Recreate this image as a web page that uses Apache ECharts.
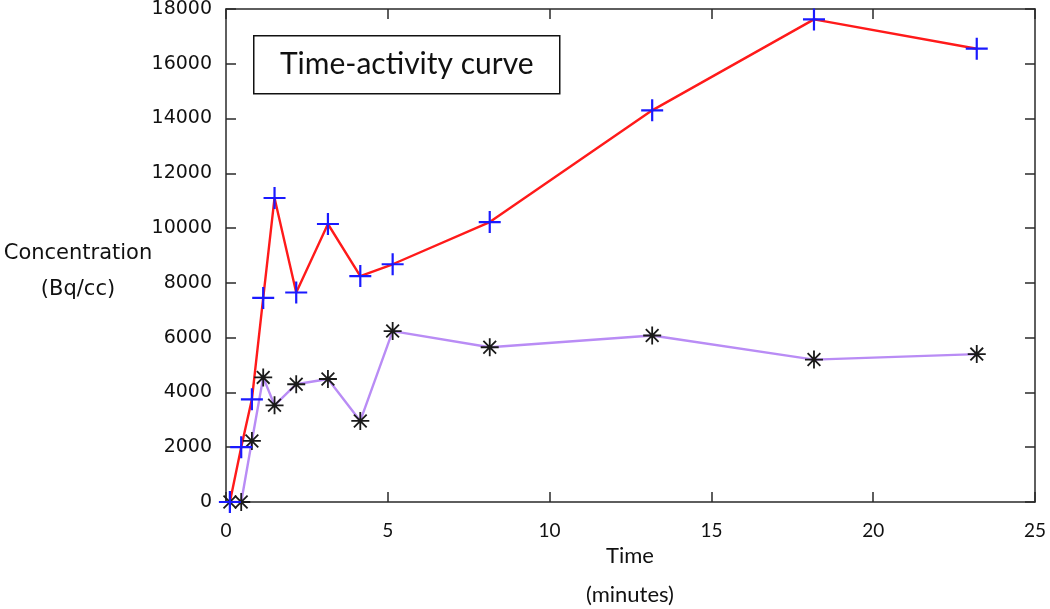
<!DOCTYPE html>
<html>
<head>
<meta charset="utf-8">
<script src="https://cdn.jsdelivr.net/npm/echarts@6/dist/echarts.min.js"></script>
<style>html,body{margin:0;padding:0;background:#fff;overflow:hidden;}#chart{width:1050px;height:609px;}</style>
</head>
<body>
<div id="chart"></div>
<script>
// ---- data ----
const timeMinutes = [0.12, 0.47, 0.8, 1.15, 1.5, 2.17, 3.15, 4.15, 5.15, 8.15, 13.17, 18.17, 23.2];
const curveRed    = [0, 2000, 3750, 7450, 11100, 7650, 10150, 8250, 8680, 10220, 14300, 17620, 16550];
const curvePurple = [0, 0, 2230, 4550, 3530, 4300, 4490, 2960, 6240, 5650, 6080, 5200, 5400];
const titleText = 'Time-activity curve';
const yAxisTitle = ['Concentration', '(Bq/cc)'];
const xAxisTitle = ['Time', '(minutes)'];
const xTicks = {min: 0, max: 25, interval: 5};
const yTicks = {min: 0, max: 18000, interval: 2000};

const pairs = (xs, ys) => xs.map((x, i) => [x, ys[i]]);

const plusPath = 'path://M9,0 H11 V9 H20 V11 H11 V20 H9 V11 H0 V9 H9 Z';
const starPath = 'path://M9,0 L11,0 L11,20 L9,20 Z M0,9 L20,9 L20,11 L0,11 Z ' +
  'M3.64,2.22 L17.78,16.36 L16.36,17.78 L2.22,3.64 Z ' +
  'M16.36,2.22 L17.78,3.64 L3.64,17.78 L2.22,16.36 Z';

const axisColor = '#2a2a2a';
const chart = echarts.init(document.getElementById('chart'), null, {renderer: 'canvas', width: 1050, height: 609});
chart.setOption({
  animation: false,
  backgroundColor: '#fff',
  grid: {left: 226, width: 809, top: 9, height: 493, containLabel: false, outerBoundsMode: 'none'},
  xAxis: [{
    type: 'value', min: xTicks.min, max: xTicks.max, interval: xTicks.interval,
    position: 'bottom',
    axisLine: {show: true, onZero: false, lineStyle: {color: axisColor, width: 1.5}},
    axisTick: {show: true, inside: true, length: 10, lineStyle: {color: axisColor, width: 1.5}},
    axisLabel: {fontFamily: 'Lato', fontSize: 19, color: '#111', margin: 19},
    splitLine: {show: false}
  }, {
    type: 'value', min: xTicks.min, max: xTicks.max, interval: xTicks.interval,
    position: 'top',
    axisLine: {show: true, onZero: false, lineStyle: {color: axisColor, width: 1.5}},
    axisTick: {show: true, inside: true, length: 10, lineStyle: {color: axisColor, width: 1.5}},
    axisLabel: {show: false},
    splitLine: {show: false}
  }],
  yAxis: [{
    type: 'value', min: yTicks.min, max: yTicks.max, interval: yTicks.interval,
    position: 'left',
    axisLine: {show: true, onZero: false, lineStyle: {color: axisColor, width: 1.5}},
    axisTick: {show: true, inside: true, length: 10, lineStyle: {color: axisColor, width: 1.5}},
    axisLabel: {fontFamily: 'DejaVu Sans', fontSize: 19, color: '#111', margin: 14,
                formatter: v => String(v)},
    splitLine: {show: false}
  }, {
    type: 'value', min: yTicks.min, max: yTicks.max, interval: yTicks.interval,
    position: 'right',
    axisLine: {show: true, onZero: false, lineStyle: {color: axisColor, width: 1.5}},
    axisTick: {show: true, inside: true, length: 10, lineStyle: {color: axisColor, width: 1.5}},
    axisLabel: {show: false},
    splitLine: {show: false}
  }],
  series: [{
    name: 'purple', type: 'line', xAxisIndex: 0, yAxisIndex: 0,
    data: pairs(timeMinutes, curvePurple),
    lineStyle: {color: '#b98cf5', width: 2.4},
    symbol: starPath, symbolSize: 18, showAllSymbol: true,
    itemStyle: {color: '#1a1a1a'}
  }, {
    name: 'red', type: 'line', xAxisIndex: 0, yAxisIndex: 0,
    data: pairs(timeMinutes, curveRed),
    lineStyle: {color: '#ff1a1a', width: 2.4},
    symbol: plusPath, symbolSize: 22, showAllSymbol: true,
    itemStyle: {color: '#1a1aff'}
  }],
  graphic: [{
    type: 'group', left: 253, top: 35,
    children: [{
      type: 'rect', shape: {x: 0, y: 0, width: 306, height: 58},
      style: {fill: '#fff', stroke: '#111', lineWidth: 1.5}
    }, {
      type: 'text', x: 153, y: 29,
      style: {text: titleText, fontFamily: 'Lato', fontSize: 30, fill: '#111',
              align: 'center', verticalAlign: 'middle'}
    }]
  }, {
    type: 'text', x: 78, y: 272,
    style: {text: yAxisTitle.join('\n'), fontFamily: 'DejaVu Sans', fontSize: 21, fill: '#111',
            align: 'center', verticalAlign: 'middle', lineHeight: 36}
  }, {
    type: 'text', x: 630, y: 575,
    style: {text: xAxisTitle.join('\n'), fontFamily: 'Lato', fontSize: 22, fill: '#111',
            align: 'center', verticalAlign: 'middle', lineHeight: 39}
  }]
});
</script>
</body>
</html>
